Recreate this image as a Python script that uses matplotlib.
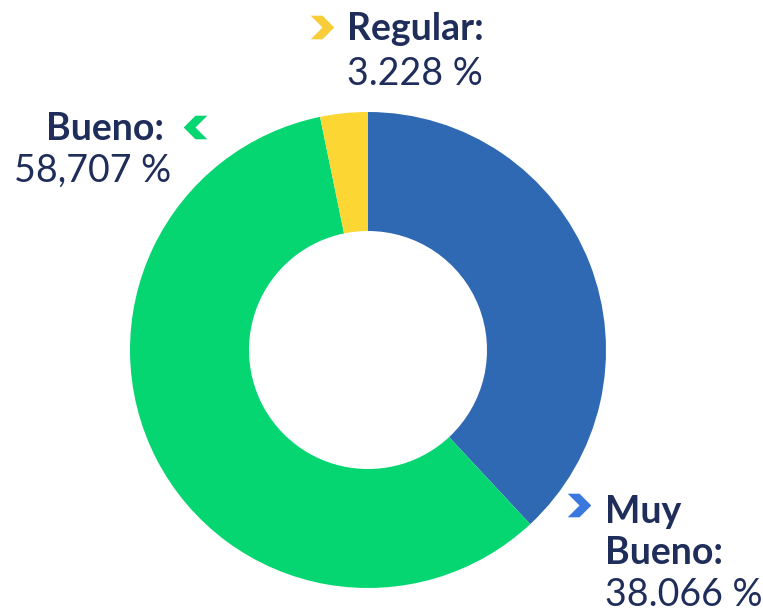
import matplotlib
matplotlib.use("Agg")
import matplotlib.pyplot as plt
from matplotlib.path import Path

# datos
categorias = ["Muy Bueno", "Bueno", "Regular"]
porcentajes = [38.066, 58.707, 3.228]
etiquetas_valor = ["38.066 %", "58,707 %", "3.228 %"]
colores = ["#3069B3", "#06D672", "#FCD734"]

W, H = 763, 613
fig = plt.figure(figsize=(W / 100, H / 100), dpi=100)
ax = fig.add_axes([0, 0, 1, 1])

# centro en (368, 350) px, radio 238 px
cx, cy, r = 368, 350, 238
ax.pie(porcentajes, colors=colores, startangle=90, counterclock=False,
       radius=1, wedgeprops=dict(width=0.5, linewidth=0))
ax.set_xlim(-cx / r, (W - cx) / r)
ax.set_ylim(-(H - cy) / r, cy / r)
ax.set_aspect("auto")
ax.axis("off")

# capa en pixeles para las flechitas
capa = fig.add_axes([0, 0, 1, 1], facecolor="none")
capa.set_xlim(0, W)
capa.set_ylim(H, 0)
capa.axis("off")

der = Path([(-0.5, -0.5), (0.0, -0.5), (0.5, 0.0), (0.0, 0.5),
            (-0.5, 0.5), (0.0, 0.0), (-0.5, -0.5)])
izq = Path([(0.5, -0.5), (0.0, -0.5), (-0.5, 0.0), (0.0, 0.5),
            (0.5, 0.5), (0.0, 0.0), (0.5, -0.5)])


def chevron(x, y, color, path):
    capa.plot([x], [y], marker=path, markersize=17, color=color,
              markeredgewidth=0, linestyle="none")


navy = "#1F2D5A"
fs = 27


def px(x, y):
    return x / W, 1 - y / H


# Regular
chevron(322, 27, "#F7CD3A", der)
fig.text(*px(347, 40), categorias[2] + ":", color=navy, fontsize=fs,
         fontweight="bold", family="Lato", va="baseline")
fig.text(*px(347, 85), etiquetas_valor[2], color=navy, fontsize=fs,
         family="Lato", va="baseline")

# Bueno
chevron(195, 127, "#06D672", izq)
fig.text(*px(164, 140), categorias[1] + ":", color=navy, fontsize=fs,
         fontweight="bold", family="Lato", va="baseline", ha="right")
fig.text(*px(14, 182), etiquetas_valor[1], color=navy, fontsize=fs,
         family="Lato", va="baseline")

# Muy Bueno
chevron(579, 505, "#3A78DE", der)
fig.text(*px(605, 523), "Muy", color=navy, fontsize=fs,
         fontweight="bold", family="Lato", va="baseline")
fig.text(*px(605, 564), "Bueno:", color=navy, fontsize=fs,
         fontweight="bold", family="Lato", va="baseline")
fig.text(*px(605, 606), etiquetas_valor[0], color=navy, fontsize=fs,
         family="Lato", va="baseline")

fig.savefig("out.png", dpi=100)
